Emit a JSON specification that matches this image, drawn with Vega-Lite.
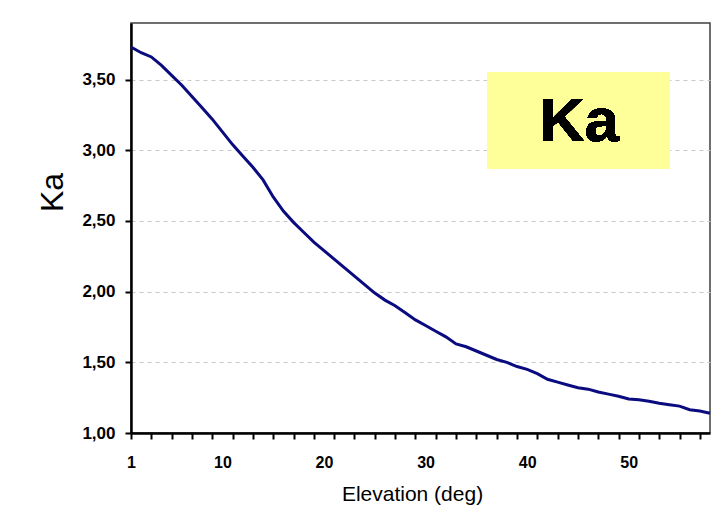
{
  "$schema": "https://vega.github.io/schema/vega-lite/v6.json",
  "width": 579,
  "height": 410,
  "autosize": {"type": "none"},
  "padding": {"left": 131, "top": 23, "right": 12, "bottom": 81},
  "background": "white",
  "config": {
    "font": "Liberation Sans",
    "view": {"stroke": "#404040", "strokeWidth": 1.5}
  },
  "data": {
    "values": [
      {"elev": 1, "ka": 3.73}, {"elev": 2, "ka": 3.69}, {"elev": 3, "ka": 3.66}, {"elev": 4, "ka": 3.60},
      {"elev": 5, "ka": 3.53}, {"elev": 6, "ka": 3.46}, {"elev": 7, "ka": 3.38}, {"elev": 8, "ka": 3.30},
      {"elev": 9, "ka": 3.22}, {"elev": 10, "ka": 3.13}, {"elev": 11, "ka": 3.04}, {"elev": 12, "ka": 2.96},
      {"elev": 13, "ka": 2.88}, {"elev": 14, "ka": 2.79}, {"elev": 15, "ka": 2.67}, {"elev": 16, "ka": 2.57},
      {"elev": 17, "ka": 2.49}, {"elev": 18, "ka": 2.42}, {"elev": 19, "ka": 2.35}, {"elev": 20, "ka": 2.29},
      {"elev": 21, "ka": 2.23}, {"elev": 22, "ka": 2.17}, {"elev": 23, "ka": 2.11}, {"elev": 24, "ka": 2.05},
      {"elev": 25, "ka": 1.99}, {"elev": 26, "ka": 1.94}, {"elev": 27, "ka": 1.90}, {"elev": 28, "ka": 1.85},
      {"elev": 29, "ka": 1.80}, {"elev": 30, "ka": 1.76}, {"elev": 31, "ka": 1.72}, {"elev": 32, "ka": 1.68},
      {"elev": 33, "ka": 1.63}, {"elev": 34, "ka": 1.61}, {"elev": 35, "ka": 1.58}, {"elev": 36, "ka": 1.55},
      {"elev": 37, "ka": 1.52}, {"elev": 38, "ka": 1.50}, {"elev": 39, "ka": 1.47}, {"elev": 40, "ka": 1.45},
      {"elev": 41, "ka": 1.42}, {"elev": 42, "ka": 1.38}, {"elev": 43, "ka": 1.36}, {"elev": 44, "ka": 1.34},
      {"elev": 45, "ka": 1.32}, {"elev": 46, "ka": 1.31}, {"elev": 47, "ka": 1.29}, {"elev": 48, "ka": 1.275},
      {"elev": 49, "ka": 1.26}, {"elev": 50, "ka": 1.24}, {"elev": 51, "ka": 1.235}, {"elev": 52, "ka": 1.225},
      {"elev": 53, "ka": 1.21}, {"elev": 54, "ka": 1.20}, {"elev": 55, "ka": 1.19}, {"elev": 56, "ka": 1.165},
      {"elev": 57, "ka": 1.155}, {"elev": 58, "ka": 1.14}
    ]
  },
  "resolve": {"axis": {"x": "independent"}},
  "layer": [
    {
      "mark": {"type": "rect", "fill": "#FFFF99"},
      "encoding": {
        "x": {
          "datum": 36.1, "type": "quantitative",
          "axis": {
            "orient": "bottom",
            "values": [1, 10, 20, 30, 40, 50],
            "ticks": false, "tickSize": 0, "domain": false, "grid": false,
            "labelPadding": 34, "labelBaseline": "alphabetic",
            "labelFontSize": 16, "labelFontWeight": "bold", "labelColor": "black",
            "labelFlush": false,
            "title": "Elevation (deg)", "titleFontSize": 21, "titleFontWeight": "normal",
            "titleColor": "black", "titleBaseline": "alphabetic", "titleY": 67, "titleX": 281
          }
        },
        "x2": {"datum": 54.05},
        "y": {"datum": 3.55, "type": "quantitative"},
        "y2": {"datum": 2.87}
      }
    },
    {
      "mark": {"type": "text", "text": "Ka", "fontSize": 62, "fontWeight": "bold", "color": "black", "align": "center", "baseline": "middle"},
      "encoding": {
        "x": {"datum": 45.15, "type": "quantitative", "axis": null},
        "y": {"datum": 3.2, "type": "quantitative"}
      }
    },
    {
      "mark": {"type": "line", "color": "#0b0b80", "strokeWidth": 3},
      "encoding": {
        "x": {
          "field": "elev", "type": "quantitative",
          "scale": {"domain": [1, 58], "nice": false, "zero": false},
          "axis": {
            "orient": "bottom",
            "values": [1, 3, 5, 7, 9, 11, 13, 15, 17, 19, 21, 23, 25, 27, 29, 31, 33, 35, 37, 39, 41, 43, 45, 47, 49, 51, 53, 55, 57],
            "labels": false, "ticks": true, "tickSize": 6, "tickColor": "black", "tickWidth": 2,
            "domain": true, "domainColor": "black", "domainWidth": 2.5, "grid": false, "title": null
          }
        },
        "y": {
          "field": "ka", "type": "quantitative",
          "scale": {"domain": [1, 3.9], "nice": false, "zero": false},
          "axis": {
            "values": [1, 1.5, 2, 2.5, 3, 3.5],
            "labelExpr": "replace(format(datum.value, '.2f'), '.', ',')",
            "grid": true, "gridDash": [4, 4], "gridColor": "#c8c8c8", "gridWidth": 1,
            "tickSize": 6, "tickColor": "black", "tickWidth": 2,
            "domainColor": "black", "domainWidth": 2.5,
            "labelFontSize": 17, "labelFontWeight": "bold", "labelColor": "black", "labelPadding": 10,
            "title": "Ka", "titleFontSize": 32, "titleFontWeight": "normal", "titleColor": "black",
            "titleX": -62, "titleY": 169
          }
        }
      }
    }
  ]
}
